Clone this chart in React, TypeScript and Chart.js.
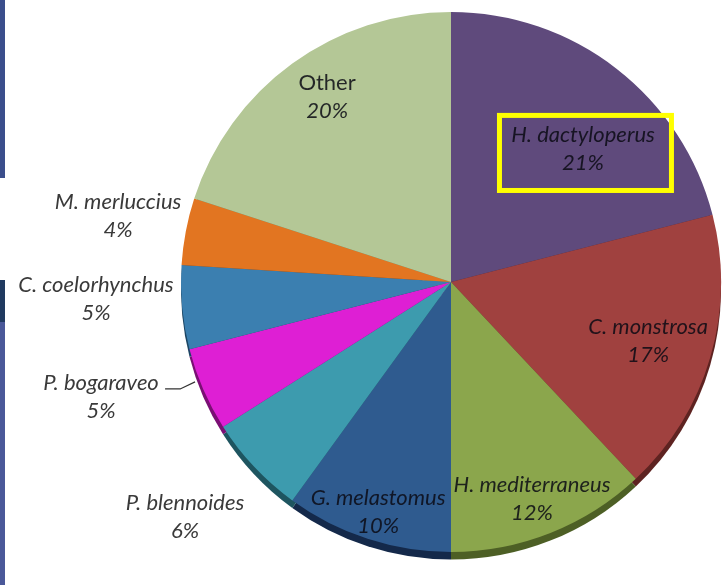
import React, { useEffect, useRef } from "react";
import { Chart, registerables } from "chart.js";

Chart.register(...registerables);

const SPECIES = [
  "H. dactyloperus",
  "C. monstrosa",
  "H. mediterraneus",
  "G. melastomus",
  "P. blennoides",
  "P. bogaraveo",
  "C. coelorhynchus",
  "M. merluccius",
  "Other",
];
const SHARES = [21, 17, 12, 10, 6, 5, 5, 4, 20];
const COLORS = [
  "#5f4a7c",
  "#a0413f",
  "#8ba64c",
  "#2f5b8f",
  "#3d9bae",
  "#de1fd4",
  "#3b7fb0",
  "#e27521",
  "#b4c796",
];
const EDGE_COLORS = [
  "#3a2c4e",
  "#5e2321",
  "#4d5f25",
  "#14294a",
  "#1e5560",
  "#7a0f74",
  "#1c4563",
  "#7e3f10",
  "#6b7a55",
];

// label placement, in units of the pie radius from its centre
const LABEL_OFFSETS: [number, number][] = [
  [0.489, -0.493],
  [0.73, 0.219],
  [0.3, 0.804],
  [-0.27, 0.852],
  [-0.985, 0.87],
  [-1.296, 0.426],
  [-1.315, 0.063],
  [-1.233, -0.244],
  [-0.459, -0.685],
];
const INSIDE = [true, true, true, true, false, false, false, false, true];

const FONT_FAMILY = "Lato, 'Open Sans', sans-serif";

const sidePlugin = {
  id: "pieSide",
  beforeDatasetsDraw(chart: any) {
    const ctx = chart.ctx;
    const meta = chart.getDatasetMeta(0);
    meta.data.forEach((arc: any, i: number) => {
      const { x, y, outerRadius, startAngle, endAngle } = arc.getProps(
        ["x", "y", "outerRadius", "startAngle", "endAngle"],
        true
      );
      const d = outerRadius * 0.028;
      ctx.save();
      ctx.beginPath();
      ctx.moveTo(x, y + d);
      ctx.arc(x, y + d, outerRadius, startAngle, endAngle);
      ctx.closePath();
      ctx.fillStyle = EDGE_COLORS[i];
      ctx.fill();
      ctx.restore();
    });
  },
};

const labelPlugin = {
  id: "pieLabels",
  afterDatasetsDraw(chart: any) {
    const ctx = chart.ctx;
    const meta = chart.getDatasetMeta(0);
    const first = meta.data[0];
    const { x: cx, y: cy, outerRadius: r } = first.getProps(
      ["x", "y", "outerRadius"],
      true
    );
    const gap = r * 0.104;
    const size = Math.round(r * 0.082);
    ctx.save();
    ctx.textAlign = "center";
    ctx.textBaseline = "middle";
    SPECIES.forEach((name, i) => {
      const [fx, fy] = LABEL_OFFSETS[i];
      const lx = cx + fx * r;
      const ly = cy + fy * r;
      ctx.fillStyle = INSIDE[i] ? "rgba(10,10,20,0.85)" : "#3a3a3a";
      const italic = name === "Other" ? "" : "italic ";
      ctx.font = `${italic}${size}px ${FONT_FAMILY}`;
      ctx.fillText(name, lx, ly - gap / 2);
      ctx.font = `italic ${size}px ${FONT_FAMILY}`;
      ctx.fillText(`${SHARES[i]}%`, lx, ly + gap / 2);

      if (i === 0) {
        // highlight box
        ctx.strokeStyle = "#ffff00";
        ctx.lineWidth = 5;
        const bw = r * 0.637;
        const bh = r * 0.278;
        const bcx = lx + r * 0.009;
        const bcy = ly + r * 0.015;
        ctx.strokeRect(bcx - bw / 2, bcy - bh / 2, bw, bh);
      }
      if (name === "P. bogaraveo") {
        ctx.strokeStyle = "#333";
        ctx.lineWidth = 1.2;
        ctx.beginPath();
        ctx.moveTo(lx + r * 0.237, ly - gap / 2 + r * 0.022);
        ctx.lineTo(lx + r * 0.293, ly - gap / 2 + r * 0.022);
        ctx.lineTo(lx + r * 0.348, ly - gap / 2 - r * 0.004);
        ctx.stroke();
      }
    });
    ctx.restore();
  },
};

export default function App() {
  const canvasRef = useRef<HTMLCanvasElement | null>(null);

  useEffect(() => {
    document.body.style.margin = "0";
    const canvas = canvasRef.current;
    if (!canvas) return;
    const chart = new Chart(canvas, {
      type: "pie",
      data: {
        labels: SPECIES,
        datasets: [
          {
            data: SHARES,
            backgroundColor: COLORS,
            borderWidth: 0,
          },
        ],
      },
      options: {
        responsive: false,
        animation: false,
        layout: { padding: { left: 181, right: 6, top: 12, bottom: 33 } },
        plugins: {
          legend: { display: false },
          tooltip: { enabled: false },
        },
      },
      plugins: [sidePlugin, labelPlugin],
    });
    return () => chart.destroy();
  }, []);

  return (
    <div
      style={{
        position: "relative",
        width: 727,
        height: 585,
        background: "#ffffff",
        overflow: "hidden",
      }}
    >
      <div style={{ position: "absolute", left: 0, top: 0, width: 5, height: 178, background: "#3b4e8c" }} />
      <div style={{ position: "absolute", left: 0, top: 280, width: 5, height: 42, background: "#203a60" }} />
      <div style={{ position: "absolute", left: 0, top: 322, width: 5, height: 263, background: "#4a5899" }} />
      <canvas
        ref={canvasRef}
        width={727}
        height={585}
        style={{ position: "absolute", left: 0, top: 0, width: 727, height: 585 }}
      />
    </div>
  );
}
